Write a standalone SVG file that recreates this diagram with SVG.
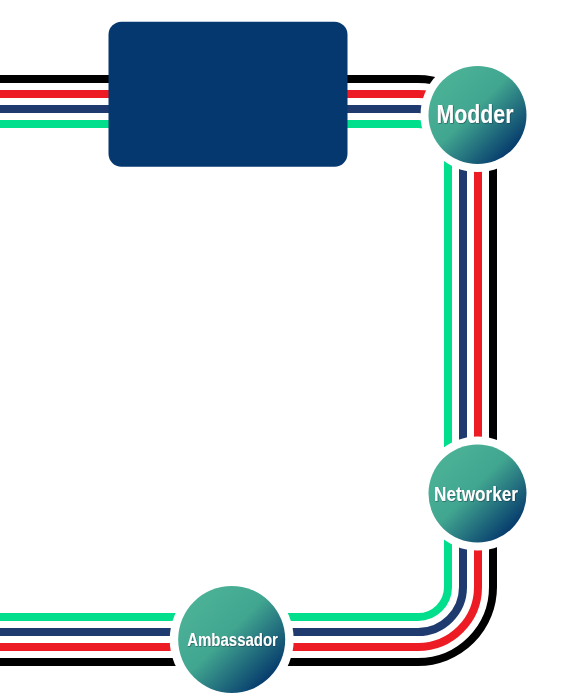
<svg xmlns="http://www.w3.org/2000/svg" width="566" height="699" viewBox="0 0 566 699">
<defs>
<linearGradient id="g" x1="0.15" y1="0.15" x2="0.88" y2="0.88">
<stop offset="0" stop-color="#4BB196"/>
<stop offset="0.42" stop-color="#41A690"/>
<stop offset="1" stop-color="#03356B"/>
</linearGradient>
<filter id="ts" x="-10%" y="-30%" width="120%" height="160%">
<feDropShadow dx="0.6" dy="0.6" stdDeviation="0.6" flood-color="#0a2a40" flood-opacity="0.7"/>
</filter>
<style>
.ln{fill:none;stroke-width:8;}
.k{stroke:#000000;}
.r{stroke:#ED1C24;}
.b{stroke:#1E3A6F;}
.gr{stroke:#02DF8C;}
.ring{fill:#ffffff;}
.disc{fill:url(#g);}
.lbl{fill:#ffffff;font-family:"Liberation Sans",Arial,sans-serif;font-weight:bold;text-anchor:middle;filter:url(#ts);}
</style>
</defs>
<g id="connectors">
<path class="ln k" d="M0,79 H418 A75,75 0 0 1 493,154 V587 A75,75 0 0 1 418,662 H0"/>
<path class="ln r" d="M0,94 H418 A60,60 0 0 1 478,154 V587 A60,60 0 0 1 418,647 H0"/>
<path class="ln b" d="M0,109 H418 A45,45 0 0 1 463,154 V587 A45,45 0 0 1 418,632 H0"/>
<path class="ln gr" d="M0,124 H418 A30,30 0 0 1 448,154 V587 A30,30 0 0 1 418,617 H0"/>
</g>
<g id="box">
<rect x="108.5" y="21.7" width="239" height="145" rx="13" fill="#04386E"/>
</g>
<g id="modder">
<circle class="ring" cx="477.5" cy="115" r="57"/>
<circle class="disc" cx="477.5" cy="115" r="49"/>
<text class="lbl" x="475" y="123.3" font-size="25" textLength="77" lengthAdjust="spacingAndGlyphs">Modder</text>
</g>
<g id="networker">
<circle class="ring" cx="477.5" cy="493.5" r="57"/>
<circle class="disc" cx="477.5" cy="493.5" r="49"/>
<text class="lbl" x="476" y="501" font-size="20" textLength="84" lengthAdjust="spacingAndGlyphs">Networker</text>
</g>
<g id="ambassador">
<circle class="ring" cx="231.7" cy="639.5" r="62"/>
<circle class="disc" cx="231.7" cy="639.5" r="53.5"/>
<text class="lbl" x="232.6" y="646" font-size="19" textLength="90.7" lengthAdjust="spacingAndGlyphs">Ambassador</text>
</g>
</svg>
